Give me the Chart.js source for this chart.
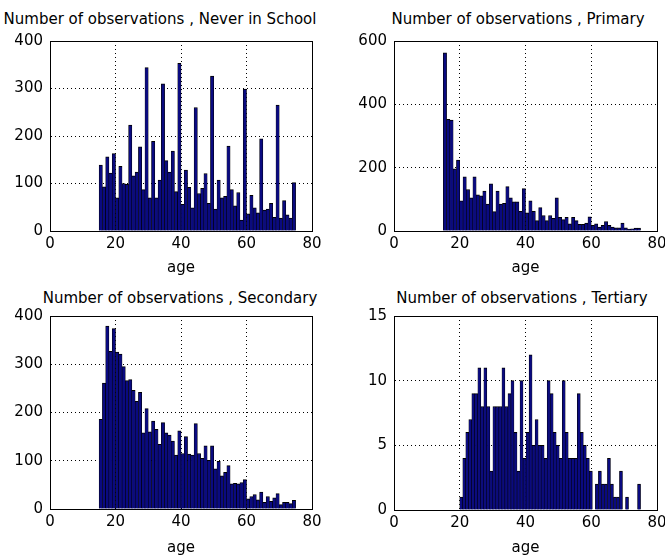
<!DOCTYPE html>
<html lang="en">
<head>
<meta charset="UTF-8">
<title>Number of observations by age</title>
<script src="https://cdn.jsdelivr.net/npm/chart.js"></script>
<style>
  html, body { margin: 0; padding: 0; background: #fff; }
  body { width: 665px; height: 560px; position: relative; overflow: hidden; font-family: "DejaVu Sans", sans-serif; }
  canvas { position: absolute; }
  .ttl { position: absolute; font-size: 15px; line-height: 18px; white-space: nowrap; transform: translateX(-50%); color: #000; }
</style>
</head>
<body>
<div class="ttl" style="left:160px; top:10px">Number of observations , Never in School</div>
<div class="ttl" style="left:518px; top:10px">Number of observations , Primary</div>
<div class="ttl" style="left:180px; top:289px">Number of observations , Secondary</div>
<div class="ttl" style="left:522px; top:289px">Number of observations , Tertiary</div>

<canvas id="never" style="left:0; top:0" width="332" height="280"></canvas>
<canvas id="primary" style="left:332px; top:0" width="340" height="280"></canvas>
<canvas id="secondary" style="left:0; top:280px" width="332" height="280"></canvas>
<canvas id="tertiary" style="left:332px; top:280px" width="340" height="280"></canvas>

<script>
// bin centres (age), 60 bins
const ageBins = [15.5, 16.5, 17.5, 18.5, 19.5, 20.5, 21.5, 22.5, 23.5, 24.5,
  25.5, 26.5, 27.5, 28.5, 29.5, 30.5, 31.5, 32.5, 33.5, 34.5,
  35.5, 36.5, 37.5, 38.5, 39.5, 40.5, 41.5, 42.5, 43.5, 44.5,
  45.5, 46.5, 47.5, 48.5, 49.5, 50.5, 51.5, 52.5, 53.5, 54.5,
  55.5, 56.5, 57.5, 58.5, 59.5, 60.5, 61.5, 62.5, 63.5, 64.5,
  65.5, 66.5, 67.5, 68.5, 69.5, 70.5, 71.5, 72.5, 73.5, 74.5];
const tertiaryBins = [20.46, 21.38, 22.29, 23.21, 24.13, 25.04, 25.96, 26.88, 27.79, 28.71,
  29.63, 30.54, 31.46, 32.38, 33.29, 34.21, 35.13, 36.04, 36.96, 37.88,
  38.79, 39.71, 40.63, 41.54, 42.46, 43.38, 44.29, 45.21, 46.13, 47.04,
  47.96, 48.88, 49.79, 50.71, 51.63, 52.54, 53.46, 54.38, 55.29, 56.21,
  57.13, 58.04, 58.96, 59.88, 60.79, 61.71, 62.63, 63.54, 64.46, 65.38,
  66.29, 67.21, 68.13, 69.04, 69.96, 70.88, 71.79, 72.71, 73.63, 74.54];

// counts per bin
const neverCounts = [139, 93, 156, 122, 163, 70, 136, 100, 98, 223,
  116, 124, 177, 87, 344, 70, 189, 70, 107, 310,
  148, 124, 168, 83, 353, 56, 128, 92, 49, 260,
  79, 90, 121, 58, 326, 46, 107, 70, 73, 179,
  87, 53, 81, 23, 299, 36, 75, 49, 38, 194,
  44, 46, 58, 29, 265, 27, 64, 34, 27, 102];
const primaryCounts = [563, 353, 350, 196, 224, 95, 171, 131, 105, 171,
  114, 111, 126, 85, 149, 61, 126, 85, 87, 140,
  105, 92, 92, 62, 134, 57, 95, 62, 33, 74,
  49, 33, 49, 40, 105, 43, 36, 43, 23, 43,
  33, 21, 21, 25, 45, 18, 23, 12, 18, 30,
  18, 12, 10, 10, 25, 10, 6, 7, 9, 9];
const secondaryCounts = [186, 261, 379, 327, 374, 325, 321, 295, 266, 268,
  246, 223, 242, 158, 208, 160, 182, 165, 134, 179,
  158, 153, 141, 112, 162, 115, 150, 114, 112, 177,
  115, 105, 131, 101, 131, 83, 99, 69, 76, 90,
  52, 53, 52, 55, 61, 21, 26, 30, 19, 35,
  14, 26, 16, 23, 32, 9, 14, 14, 11, 18];
const tertiaryCounts = [1, 4, 6, 7, 9, 9, 11, 8, 11, 8,
  3, 8, 8, 8, 11, 8, 9, 10, 6, 3,
  10, 4, 6, 12, 5, 7, 5, 5, 4, 10,
  9, 6, 5, 4, 10, 6, 4, 4, 4, 9,
  6, 5, 4, 3, 0, 2, 3, 2, 2, 4,
  2, 1, 1, 3, 0, 1, 0, 0, 0, 2];

const xTicks = [0, 20, 40, 60, 80];

const font = { family: 'DejaVu Sans', size: 15 };

// full box round the plot area, like matlab
const frame = {
  id: 'frame',
  afterDraw(chart) {
    const { ctx, chartArea: a } = chart;
    ctx.save();
    ctx.strokeStyle = '#000';
    ctx.lineWidth = 1;
    ctx.strokeRect(a.left + 0.5, a.top + 0.5, a.right - a.left, a.bottom - a.top);
    ctx.restore();
  }
};

function makeChart(id, bins, counts, yMax, yStep, box) {
  const ctx = document.getElementById(id);
  return new Chart(ctx, {
    type: 'bar',
    data: {
      datasets: [{
        data: bins.map((x, i) => ({ x: x, y: counts[i] })),
        backgroundColor: '#0a0a80',
        borderColor: '#000',
        borderWidth: { left: 0.6, right: 0.6, top: 1, bottom: 0 },
        barPercentage: 1,
        categoryPercentage: 1
      }]
    },
    options: {
      responsive: false,
      animation: false,
      layout: { padding: { left: 0, right: box.right, top: box.top, bottom: 0 } },
      plugins: { legend: { display: false }, tooltip: { enabled: false } },
      scales: {
        x: {
          type: 'linear', min: 0, max: 80, offset: false,
          afterBuildTicks: s => { s.ticks = xTicks.map(v => ({ value: v })); },
          grid: { offset: false, color: '#000', drawTicks: false },
          border: { color: '#000', dash: [1, 3] },
          ticks: { padding: 4, color: '#000', font: font, maxRotation: 0 },
          title: { display: true, text: 'age', color: '#000', font: font, padding: { top: 0, bottom: 3 } },
          afterFit: s => { s.height = box.xh; }
        },
        y: {
          min: 0, max: yMax,
          grid: { color: '#000', drawTicks: false },
          border: { color: '#000', dash: [1, 3] },
          ticks: { stepSize: yStep, padding: 7, color: '#000', font: font },
          afterFit: s => { s.width = box.left; }
        }
      }
    },
    plugins: [frame]
  });
}

makeChart('never', ageBins, neverCounts, 400, 100, { left: 50, right: 20, top: 41, xh: 49 });
makeChart('primary', ageBins, primaryCounts, 600, 200, { left: 62, right: 15, top: 41, xh: 49 });
makeChart('secondary', ageBins, secondaryCounts, 400, 100, { left: 50, right: 20, top: 36, xh: 51 });
makeChart('tertiary', tertiaryBins, tertiaryCounts, 15, 5, { left: 62, right: 15, top: 36, xh: 50 });
</script>
</body>
</html>
